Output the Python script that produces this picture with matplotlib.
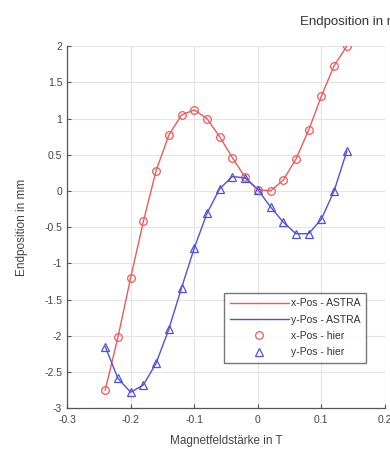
import numpy as np
import matplotlib
matplotlib.use('Agg')
import matplotlib.pyplot as plt

plt.rcParams['font.family'] = ['Liberation Sans', 'DejaVu Sans']
plt.rcParams['axes.unicode_minus'] = False

# Magnetfeldstaerke in T
field = [-0.24, -0.22, -0.20, -0.18, -0.16, -0.14, -0.12, -0.10, -0.08, -0.06,
         -0.04, -0.02, 0.00, 0.02, 0.04, 0.06, 0.08, 0.10, 0.12, 0.14]

# Endposition in mm
x_astra = [-2.75, -2.02, -1.20, -0.42, 0.28, 0.77, 1.05, 1.12, 1.00, 0.75,
           0.46, 0.19, 0.02, 0.00, 0.15, 0.44, 0.84, 1.31, 1.73, 2.00]
y_astra = [-2.15, -2.59, -2.78, -2.68, -2.38, -1.91, -1.34, -0.79, -0.31, 0.03,
           0.20, 0.18, 0.02, -0.22, -0.43, -0.59, -0.59, -0.39, 0.00, 0.55]
x_hier = [-2.75, -2.02, -1.20, -0.42, 0.28, 0.77, 1.05, 1.12, 1.00, 0.75,
          0.46, 0.19, 0.02, 0.00, 0.15, 0.44, 0.84, 1.31, 1.73, 2.00]
y_hier = [-2.15, -2.59, -2.78, -2.68, -2.38, -1.91, -1.34, -0.79, -0.31, 0.03,
          0.20, 0.18, 0.02, -0.22, -0.43, -0.59, -0.59, -0.39, 0.00, 0.55]

xticks = [-0.3, -0.2, -0.1, 0, 0.1, 0.2]
xticklabels = ['-0.3', '-0.2', '-0.1', '0', '0.1', '0.2']
yticks = [-3, -2.5, -2, -1.5, -1, -0.5, 0, 0.5, 1, 1.5, 2]
yticklabels = ['-3', '-2.5', '-2', '-1.5', '-1', '-0.5', '0', '0.5', '1', '1.5', '2']

red = '#ee5a5a'
blue = '#5050e0'
axcol = '#555555'

fig = plt.figure(figsize=(3.9, 4.53), dpi=100)
ax = fig.add_axes([0.172, 0.099, 0.815, 0.799])

ax.plot(field, x_astra, color=red, lw=1.0, label='x-Pos - ASTRA')
ax.plot(field, y_astra, color=blue, lw=1.0, label='y-Pos - ASTRA')
ax.plot(field, x_hier, ls='none', marker='o', ms=5.5, mfc='none', mec=red, mew=0.9, label='x-Pos - hier')
ax.plot(field, y_hier, ls='none', marker='^', ms=5.5, mfc='none', mec=blue, mew=0.9, label='y-Pos - hier')

ax.set_xlim(-0.3, 0.2)
ax.set_ylim(-3, 2)
ax.set_xticks(xticks)
ax.set_xticklabels(xticklabels)
ax.set_yticks(yticks)
ax.set_yticklabels(yticklabels)
ax.grid(True, color='#e4e4e4', lw=0.8)
ax.set_axisbelow(True)
for s in ['top', 'right']:
	ax.spines[s].set_visible(False)
for s in ['left', 'bottom']:
	ax.spines[s].set_color(axcol)
	ax.spines[s].set_linewidth(0.9)
ax.tick_params(direction='in', length=3, colors=axcol, labelsize=7.5, labelcolor='#444444')
ax.tick_params(axis='x', pad=5)

ax.set_xlabel('Magnetfeldstärke in T', fontsize=8.5, color='#444444', labelpad=7)
ax.set_ylabel('Endposition in mm', fontsize=8.5, color='#444444', labelpad=12)

leg = ax.legend(loc='lower right', bbox_to_anchor=(0.94, 0.125), fontsize=7.5, frameon=True,
	fancybox=False, edgecolor='#555555', handlelength=5.6, handletextpad=0.2,
	borderpad=0.55, labelspacing=0.6, borderaxespad=0)
for t in leg.get_texts():
	t.set_color('#333333')

fig.text(300/390, 1 - 22/453, 'Endposition in mm', fontsize=9.5, color='#333333', va='center', ha='left')

plt.savefig('out.png')
plt.close()
